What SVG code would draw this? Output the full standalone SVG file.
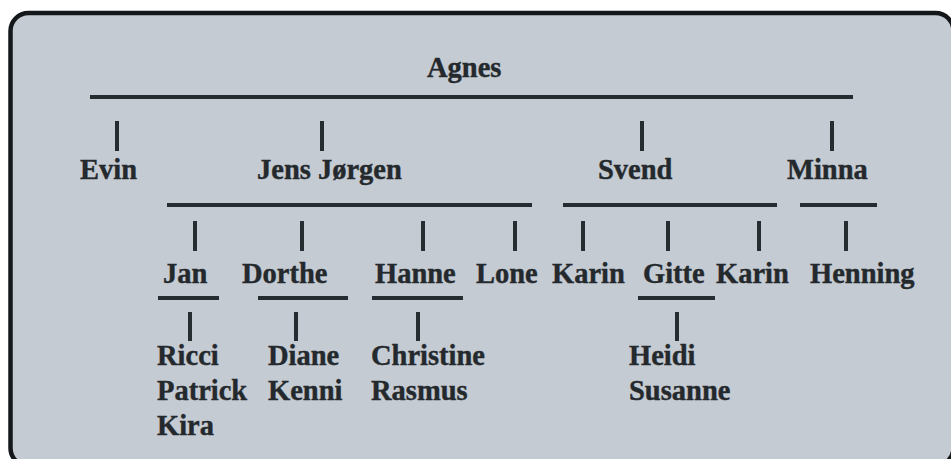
<svg xmlns="http://www.w3.org/2000/svg" width="951" height="459" viewBox="0 0 951 459">
<style>
.n{font-family:"Liberation Serif","Times New Roman",serif;font-weight:bold;font-size:28.5px;fill:#24292d;stroke:#24292d;stroke-width:0.4}
.c line{stroke:#272c30;stroke-width:4;stroke-linecap:butt}
</style>
<rect x="0" y="0" width="951" height="459" fill="#ffffff"/>
<rect id="frame" x="10.5" y="13" width="943" height="453" rx="18" ry="18" fill="#c5cbd2" stroke="#15181a" stroke-width="4.5"/>
<g class="c" id="connectors">
<line x1="90" y1="97" x2="853" y2="97"/>
<line x1="117" y1="121" x2="117" y2="151"/>
<line x1="322" y1="121" x2="322" y2="151"/>
<line x1="642" y1="121" x2="642" y2="151"/>
<line x1="832" y1="121" x2="832" y2="151"/>
<line x1="167" y1="205" x2="532" y2="205"/>
<line x1="563" y1="205" x2="777" y2="205"/>
<line x1="800" y1="205" x2="877" y2="205"/>
<line x1="195" y1="221" x2="195" y2="251"/>
<line x1="302" y1="221" x2="302" y2="251"/>
<line x1="423" y1="221" x2="423" y2="251"/>
<line x1="515" y1="221" x2="515" y2="251"/>
<line x1="583" y1="221" x2="583" y2="251"/>
<line x1="668" y1="221" x2="668" y2="251"/>
<line x1="759" y1="221" x2="759" y2="251"/>
<line x1="846" y1="221" x2="846" y2="251"/>
<line x1="158" y1="298" x2="219" y2="298"/>
<line x1="258" y1="298" x2="348" y2="298"/>
<line x1="372" y1="298" x2="463" y2="298"/>
<line x1="638" y1="298" x2="715" y2="298"/>
<line x1="190" y1="312" x2="190" y2="341"/>
<line x1="296" y1="312" x2="296" y2="341"/>
<line x1="418" y1="312" x2="418" y2="341"/>
<line x1="677" y1="312" x2="677" y2="341"/>
</g>
<g id="agnes"><text class="n" x="427" y="77">Agnes</text></g>
<g id="evin"><text class="n" x="80" y="179">Evin</text></g>
<g id="jens-jorgen"><text class="n" x="257" y="179">Jens Jørgen</text></g>
<g id="svend"><text class="n" x="598" y="179">Svend</text></g>
<g id="minna"><text class="n" x="787" y="179">Minna</text></g>
<g id="jan"><text class="n" x="163" y="283">Jan</text></g>
<g id="dorthe"><text class="n" x="242" y="283">Dorthe</text></g>
<g id="hanne"><text class="n" x="375" y="283">Hanne</text></g>
<g id="lone"><text class="n" x="476" y="283">Lone</text></g>
<g id="karin1"><text class="n" x="552" y="283">Karin</text></g>
<g id="gitte"><text class="n" x="643" y="283">Gitte</text></g>
<g id="karin2"><text class="n" x="716" y="283">Karin</text></g>
<g id="henning"><text class="n" x="810" y="283">Henning</text></g>
<g id="jan-children"><text class="n" x="157" y="365">Ricci</text><text class="n" x="157" y="400">Patrick</text><text class="n" x="157" y="435">Kira</text></g>
<g id="dorthe-children"><text class="n" x="268" y="365">Diane</text><text class="n" x="268" y="400">Kenni</text></g>
<g id="hanne-children"><text class="n" x="371" y="365">Christine</text><text class="n" x="371" y="400">Rasmus</text></g>
<g id="gitte-children"><text class="n" x="629" y="365">Heidi</text><text class="n" x="629" y="400">Susanne</text></g>
</svg>
